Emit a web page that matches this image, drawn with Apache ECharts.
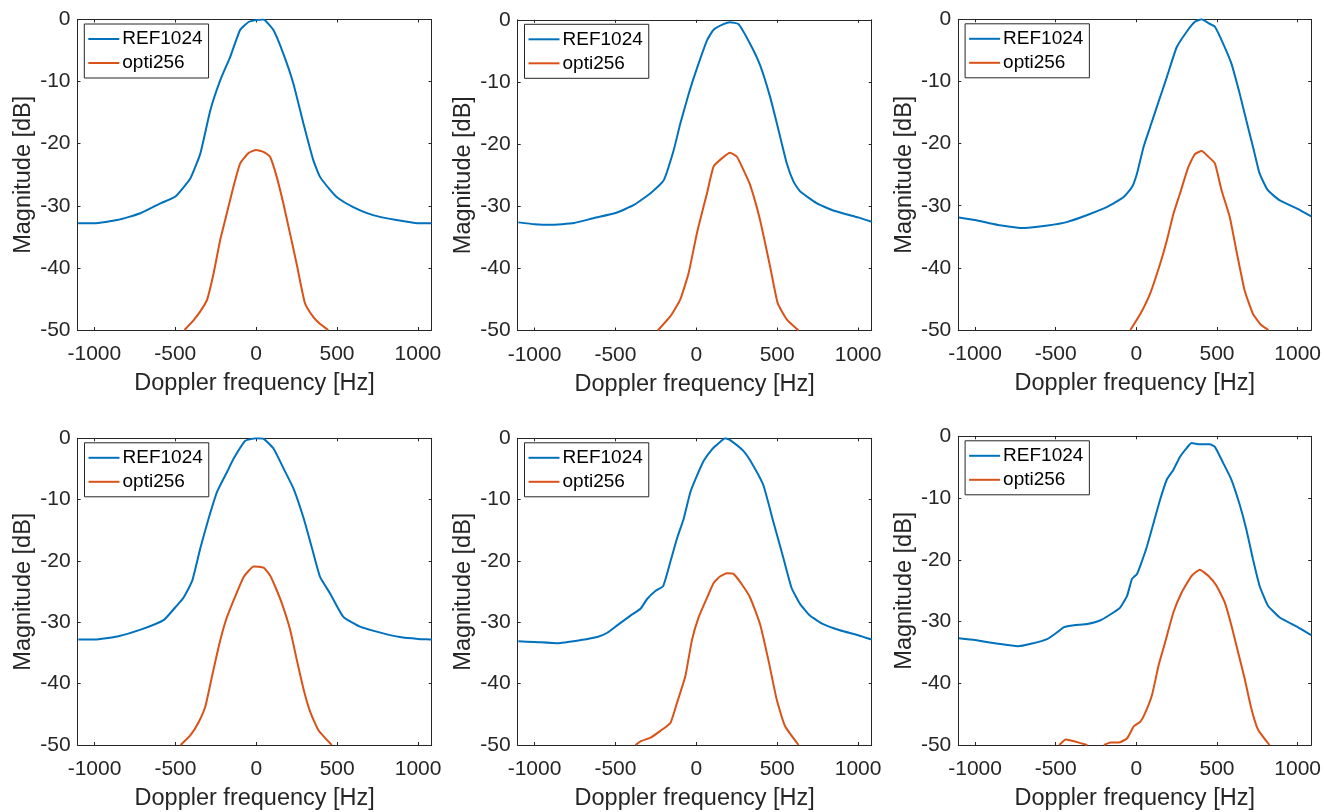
<!DOCTYPE html>
<html>
<head>
<meta charset="utf-8">
<script src="https://cdn.jsdelivr.net/npm/echarts@6/dist/echarts.min.js"></script>
<style>
html,body{margin:0;padding:0;background:#fff;}
#chart{width:1324px;height:812px;}
</style>
</head>
<body>
<div id="chart"></div>
<script>
// ---- Data (Doppler frequency in Hz, magnitude in dB) ----
const seriesNames = ['REF1024', 'opti256'];
const xTickValues = [-1000, -500, 0, 500, 1000];
const yTickValues = [-50, -40, -30, -20, -10, 0];

// Panel 1 (top-left)
const p1RefX = [-1100,-1000,-858,-715,-591,-499,-407,-345,-283,-222,-160,-99,-47,0,45,107,168,230,292,353,394,456,503,600,723,867,1000,1084];
const p1RefY = [-32.8,-32.8,-32.3,-31.2,-29.6,-28.5,-25.6,-21.6,-14.6,-9.8,-6.0,-1.7,-0.4,-0.1,0,-1.7,-5.5,-10.3,-16.7,-22.6,-25.3,-27.4,-28.7,-30.2,-31.5,-32.3,-32.8,-32.8];
const p1OptX = [-443,-386,-345,-304,-263,-222,-181,-140,-99,-47,0,45,86,127,168,209,250,302,353,394,446];
const p1OptY = [-50,-48.4,-47.0,-45.2,-40.9,-35.5,-31.2,-26.9,-23.2,-21.5,-21.0,-21.3,-22.1,-25.3,-29.6,-34.4,-39.3,-45.7,-47.9,-49.0,-50];

// Panel 2 (top-middle)
const p2RefX = [-1100,-1000,-903,-756,-632,-499,-386,-283,-201,-140,-99,-47,0,66,107,168,209,261,333,394,456,503,559,600,641,743,846,1000,1084];
const p2RefY = [-32.6,-32.9,-33.0,-32.7,-31.9,-31.1,-29.8,-27.9,-25.8,-21.0,-16.7,-11.9,-8.1,-3.3,-1.6,-0.7,-0.4,-0.7,-3.9,-7.3,-12.4,-17.2,-23.1,-26.0,-27.6,-29.5,-30.7,-31.8,-32.5];
const p2OptX = [-238,-160,-99,-47,4,66,107,158,209,250,292,333,394,456,503,559,632];
const p2OptY = [-50,-47.7,-45.0,-40.7,-34.3,-27.9,-23.6,-22.3,-21.4,-22.0,-24.2,-26.6,-32.2,-39.7,-45.6,-48.2,-50];

// Panel 3 (top-right)
const p3RefX = [-1100,-1000,-858,-694,-550,-427,-304,-181,-78,-27,4,45,86,127,189,250,312,363,405,446,487,538,589,641,682,723,764,815,887,1000,1084];
const p3RefY = [-31.9,-32.3,-33.1,-33.6,-33.2,-32.6,-31.5,-30.2,-28.6,-27.0,-24.8,-20.5,-17.3,-14.1,-9.3,-4.5,-2.0,-0.4,0,-0.6,-1.2,-3.9,-7.1,-12.0,-16.3,-20.5,-24.8,-27.5,-29.1,-30.5,-31.7];
const p3OptX = [-37,25,86,148,189,230,271,322,363,405,446,487,528,579,620,671,723,774,819];
const p3OptY = [-50,-47.4,-44.1,-39.3,-35.6,-31.3,-28.0,-23.8,-21.7,-21.2,-22.1,-23.2,-27.5,-31.8,-37.2,-43.6,-47.4,-49.2,-50];

// Panel 4 (bottom-left)
const p4RefX = [-1100,-1000,-858,-715,-571,-499,-448,-396,-345,-294,-242,-181,-140,-68,0,45,107,168,230,292,343,394,456,538,641,784,887,1000,1084];
const p4RefY = [-32.8,-32.8,-32.3,-31.2,-29.6,-27.5,-25.9,-23.2,-17.8,-13.0,-8.7,-5.5,-3.3,-0.4,0,-0.1,-1.7,-4.9,-8.2,-13.0,-17.8,-22.6,-25.3,-29.1,-30.7,-31.8,-32.4,-32.7,-32.8];
const p4OptX = [-468,-407,-355,-314,-273,-232,-191,-140,-78,-16,45,86,117,158,209,250,292,333,384,466];
const p4OptY = [-50,-48.4,-46.2,-43.6,-38.7,-33.9,-29.9,-26.4,-22.6,-20.9,-21.1,-22.4,-24.2,-26.9,-31.2,-36.1,-40.9,-44.6,-47.6,-50];

// Panel 5 (bottom-middle)
const p5RefX = [-1100,-1000,-858,-715,-612,-550,-489,-407,-345,-304,-253,-205,-160,-119,-78,-37,4,45,97,138,179,209,292,353,415,476,538,589,641,702,784,887,1000,1084];
const p5RefY = [-33.1,-33.2,-33.4,-32.9,-32.4,-31.7,-30.5,-28.9,-27.8,-26.2,-24.9,-24.1,-20.1,-16.3,-13.1,-8.8,-6.1,-3.7,-1.8,-0.8,0,-0.3,-2.1,-4.5,-7.7,-13.6,-19.5,-24.4,-27.0,-28.9,-30.3,-31.3,-32.1,-32.8];
const p5OptX = [-376,-345,-283,-222,-160,-119,-68,-27,14,66,107,148,189,230,281,333,394,446,497,548,632];
const p5OptY = [-50,-49.4,-48.8,-47.7,-46.4,-43.1,-38.8,-32.9,-29.2,-26.0,-23.6,-22.5,-22.0,-22.1,-23.8,-26.0,-30.3,-36.2,-42.6,-46.9,-50];

// Panel 6 (bottom-right)
const p6RefX = [-1100,-1000,-858,-735,-653,-550,-489,-448,-386,-304,-222,-140,-99,-57,-27,4,35,66,107,148,189,230,271,312,343,394,456,487,538,589,641,682,723,764,815,887,1000,1084];
const p6RefY = [-32.7,-33.0,-33.6,-34.0,-33.6,-32.8,-31.7,-30.9,-30.6,-30.4,-29.8,-28.5,-27.7,-25.8,-23.1,-22.3,-20.2,-17.8,-14.0,-10.2,-7.0,-5.4,-3.3,-1.9,-1.1,-1.3,-1.3,-1.7,-4.3,-7.0,-11.1,-15.1,-19.9,-24.2,-27.4,-29.3,-30.9,-32.2];
const p6OptX = [-478,-437,-386,-304,-250,-201,-160,-109,-57,-16,25,55,97,138,179,230,281,343,394,446,497,548,589,630,671,712,754,825];
const p6OptY = [-50,-49.1,-49.4,-50,null,-50,-49.6,-49.6,-48.9,-47.0,-46.2,-44.8,-41.9,-37.1,-33.3,-28.5,-25.3,-22.6,-21.6,-22.6,-24.2,-26.9,-30.6,-34.9,-39.2,-44.0,-47.5,-50];

const panels = [
  {refX:p1RefX, refY:p1RefY, optX:p1OptX, optY:p1OptY},
  {refX:p2RefX, refY:p2RefY, optX:p2OptX, optY:p2OptY},
  {refX:p3RefX, refY:p3RefY, optX:p3OptX, optY:p3OptY},
  {refX:p4RefX, refY:p4RefY, optX:p4OptX, optY:p4OptY},
  {refX:p5RefX, refY:p5RefY, optX:p5OptX, optY:p5OptY},
  {refX:p6RefX, refY:p6RefY, optX:p6OptX, optY:p6OptY}
];

// ---- Layout / style ----
const gridBoxes = [
  {left:77.5, top:19.5, width:354, height:310.5},
  {left:517.7, top:19.8, width:354, height:310.7},
  {left:958.3, top:19.3, width:354, height:310.7},
  {left:77.7, top:438.3, width:354, height:311.7},
  {left:517.7, top:438.3, width:354, height:311.7},
  {left:958.3, top:436.3, width:354, height:311.3}
];
const X_MIN = -1104, X_MAX = 1084;
const AX = '#262626';
const FONT = '"Liberation Sans", Arial, Helvetica, sans-serif';
const BLUE = '#0072BD', ORANGE = '#D95319';

function zip(xs, ys){ return xs.map((x,i)=>[x, ys[i]]); }

const grid = [], xAxis = [], yAxis = [], series = [], legend = [];
panels.forEach((p, i) => {
  const g = gridBoxes[i];
  grid.push({left:g.left, top:g.top, width:g.width, height:g.height, containLabel:false});
  const baseX = {
    gridIndex:i, type:'value', min:X_MIN, max:X_MAX,
    axisLine:{show:true, onZero:false, lineStyle:{color:AX, width:1}},
    axisTick:{show:true, inside:true, length:3, customValues:xTickValues, lineStyle:{color:AX}},
    splitLine:{show:false}
  };
  xAxis.push(Object.assign({}, baseX, {
    position:'bottom',
    axisLabel:{show:true, customValues:xTickValues, formatter:v=>String(v), color:AX, fontFamily:FONT, fontSize:21, margin:14},
    name:'Doppler frequency [Hz]', nameLocation:'middle', nameGap:42,
    nameTextStyle:{color:AX, fontFamily:FONT, fontSize:23.5}
  }));
  xAxis.push(Object.assign({}, baseX, {position:'top', axisLabel:{show:false}}));
  const baseY = {
    gridIndex:i, type:'value', min:-50, max:0, interval:10,
    axisLine:{show:true, onZero:false, lineStyle:{color:AX, width:1}},
    axisTick:{show:true, inside:true, length:3, lineStyle:{color:AX}},
    splitLine:{show:false}
  };
  yAxis.push(Object.assign({}, baseY, {
    position:'left',
    axisLabel:{show:true, color:AX, fontFamily:FONT, fontSize:21, margin:7},
    name:'Magnitude [dB]', nameLocation:'middle', nameGap:42,
    nameTextStyle:{color:AX, fontFamily:FONT, fontSize:23.5}
  }));
  yAxis.push(Object.assign({}, baseY, {position:'right', axisLabel:{show:false}}));
  const xi = i*2, yi = i*2;
  series.push({
    name:seriesNames[0], type:'line', xAxisIndex:xi, yAxisIndex:yi,
    data:zip(p.refX, p.refY), showSymbol:false, symbol:'none', clip:true,
    smooth:0.15,
    lineStyle:{color:BLUE, width:2}, itemStyle:{color:BLUE}, connectNulls:false, animation:false
  });
  series.push({
    name:seriesNames[1], type:'line', xAxisIndex:xi, yAxisIndex:yi,
    data:zip(p.optX, p.optY), showSymbol:false, symbol:'none', clip:true,
    smooth:0.15,
    lineStyle:{color:ORANGE, width:2}, itemStyle:{color:ORANGE}, connectNulls:false, animation:false
  });
  legend.push({
    data:seriesNames, orient:'vertical', left:g.left+6.8, top:g.top+4.5,
    backgroundColor:'#fff', borderColor:AX, borderWidth:1,
    padding:[5,6,5,4], itemGap:4, itemWidth:31, itemHeight:14,
    icon:'path://M0,6 L31,6 L31,8 L0,8 Z',
    textStyle:{color:'#000', fontFamily:FONT, fontSize:19, lineHeight:20, padding:[0,0,0,-2]},
    selectedMode:false
  });
});

const chart = echarts.init(document.getElementById('chart'), null, {renderer:'canvas'});
chart.setOption({
  animation:false,
  backgroundColor:'#fff',
  grid, xAxis, yAxis, series, legend
});
</script>
</body>
</html>
